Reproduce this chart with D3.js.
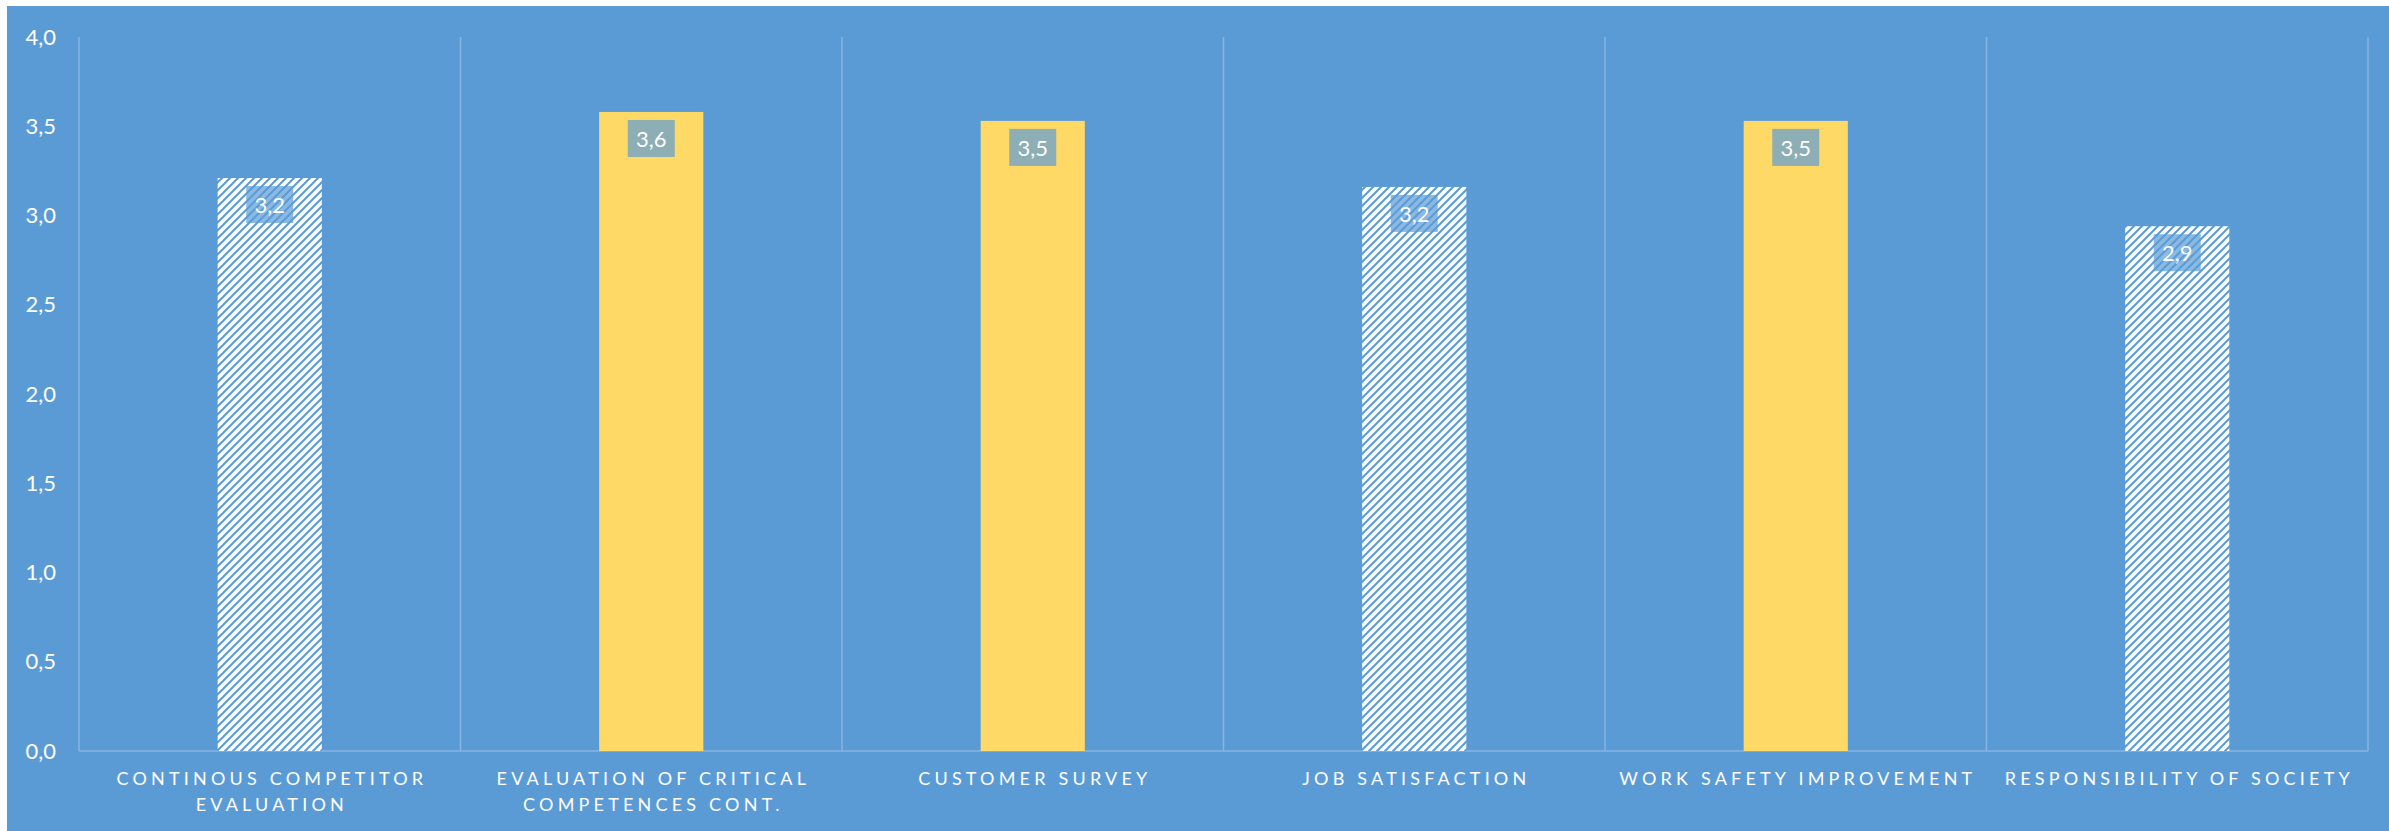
<!DOCTYPE html>
<html>
<head>
<meta charset="utf-8">
<script src="https://cdn.jsdelivr.net/npm/d3@7"></script>
<style>
  html, body { margin: 0; padding: 0; background: #ffffff; }
  svg { display: block; }
</style>
</head>
<body>
<svg id="chart" width="2389" height="831"></svg>
<script>
// Category names, average scores and the fill style of each bar
const categories = [
  "CONTINOUS COMPETITOR EVALUATION",
  "EVALUATION OF CRITICAL COMPETENCES CONT.",
  "CUSTOMER SURVEY",
  "JOB SATISFACTION",
  "WORK SAFETY IMPROVEMENT",
  "RESPONSIBILITY OF SOCIETY"
];
const scores = [3.21, 3.58, 3.53, 3.16, 3.53, 2.94];
const fillStyles = ["hatch", "solid", "solid", "hatch", "solid", "hatch"];
const yTicks = [0, 0.5, 1, 1.5, 2, 2.5, 3, 3.5, 4];

const W = 2389, H = 831;
const BG = "#5B9BD5", YELLOW = "#FFD966", LINE = "#86B5E2";
const FONT = "Lato, 'Open Sans', sans-serif";
const margin = { left: 79, right: 21, top: 37, bottom: 80 };

const svg = d3.select("#chart");
const fmt = v => d3.format(".1f")(v).replace(".", ",");

// Diagonal hatch fill
const defs = svg.append("defs");
const pat = defs.append("pattern")
  .attr("id", "hatch").attr("patternUnits", "userSpaceOnUse")
  .attr("width", 8).attr("height", 8);
pat.append("rect").attr("width", 8).attr("height", 8).attr("fill", "#ffffff");
pat.append("path")
  .attr("d", "M-2,2 L2,-2 M0,8 L8,0 M6,10 L10,6")
  .attr("stroke", BG).attr("stroke-width", 2);

// Chart background
svg.append("rect").attr("x", 7).attr("y", 6).attr("width", W - 7).attr("height", H - 6).attr("fill", BG);

const x = d3.scaleBand().domain(categories)
  .range([margin.left, W - margin.right]).paddingInner(0).paddingOuter(0);
const y = d3.scaleLinear().domain([0, 4]).range([H - margin.bottom, margin.top]);

// Vertical separators between categories
const bounds = categories.map(c => x(c)).concat([x.range()[1]]);
svg.append("g").selectAll("line").data(bounds).join("line")
  .attr("x1", d => d).attr("x2", d => d)
  .attr("y1", y(4)).attr("y2", y(0))
  .attr("stroke", LINE).attr("stroke-width", 1.5);

// Baseline
svg.append("line")
  .attr("x1", x.range()[0]).attr("x2", x.range()[1])
  .attr("y1", y(0)).attr("y2", y(0))
  .attr("stroke", LINE).attr("stroke-width", 1.5);

// Y axis labels
const yAxis = d3.axisLeft(y).tickValues(yTicks).tickFormat(fmt).tickSize(0).tickPadding(23);
const yg = svg.append("g").attr("transform", `translate(${margin.left},0)`).call(yAxis);
yg.select(".domain").remove();
yg.selectAll("text").attr("fill", "#ffffff").style("font-family", FONT).style("font-size", "22px");

// Bars
const barW = x.bandwidth() * 0.273;
svg.append("g").selectAll("rect").data(categories).join("rect")
  .attr("x", d => x(d) + (x.bandwidth() - barW) / 2)
  .attr("y", (d, i) => y(scores[i]))
  .attr("width", barW)
  .attr("height", (d, i) => y(0) - y(scores[i]))
  .attr("fill", (d, i) => fillStyles[i] === "hatch" ? "url(#hatch)" : YELLOW);

// Value labels in translucent boxes
const lab = svg.append("g").selectAll("g").data(categories).join("g")
  .attr("transform", (d, i) => `translate(${x(d) + x.bandwidth() / 2},${y(scores[i]) + 8})`);
lab.append("rect")
  .attr("x", -23.5).attr("y", 0).attr("width", 47).attr("height", 37)
  .attr("fill", BG).attr("fill-opacity", 0.7);
lab.append("text")
  .attr("x", 0).attr("y", 19).attr("dy", "0.35em")
  .attr("text-anchor", "middle").attr("fill", "#ffffff")
  .style("font-family", FONT).style("font-size", "22px")
  .text((d, i) => fmt(scores[i]));

// Category labels, wrapped to the band width
const xg = svg.append("g");
const spacing = 4.2;
categories.forEach(c => {
  const cx = x(c) + x.bandwidth() / 2;
  const t = xg.append("text")
    .attr("text-anchor", "middle").attr("fill", "#ffffff")
    .style("font-family", FONT).style("font-size", "18px")
    .style("letter-spacing", spacing + "px");
  const words = c.split(" ");
  const lines = [];
  let cur = [];
  const probe = xg.append("text").style("font-family", FONT).style("font-size", "18px")
    .style("letter-spacing", spacing + "px");
  words.forEach(w => {
    const trial = cur.concat([w]).join(" ");
    probe.text(trial);
    if (probe.node().getComputedTextLength() > x.bandwidth() * 0.95 && cur.length) {
      lines.push(cur.join(" "));
      cur = [w];
    } else cur.push(w);
  });
  lines.push(cur.join(" "));
  probe.remove();
  lines.forEach((ln, k) => {
    t.append("tspan").attr("x", cx + spacing / 2).attr("y", y(0) + 28 + k * 26)
      .attr("dy", "0.35em").text(ln);
  });
});
</script>
</body>
</html>
